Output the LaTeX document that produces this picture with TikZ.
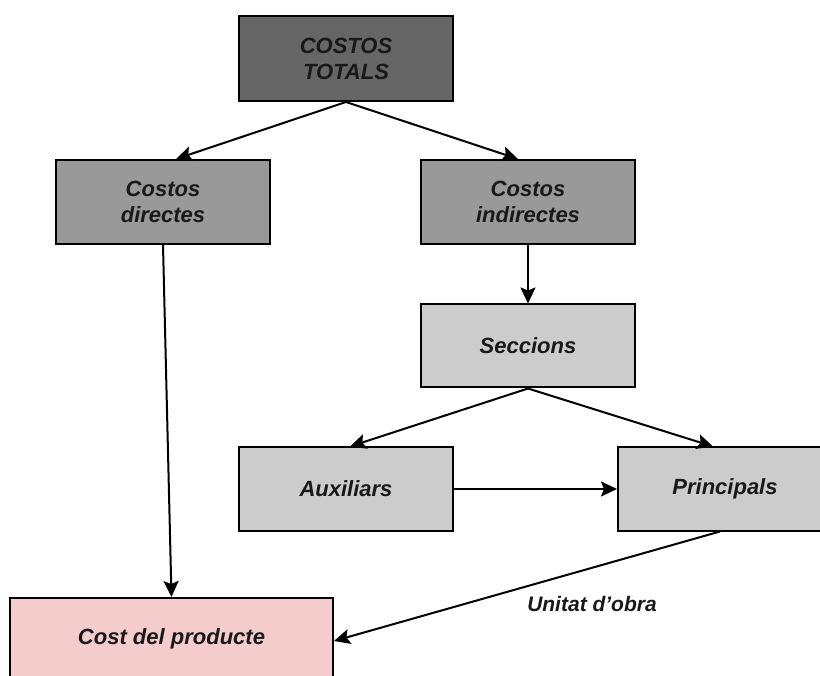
\documentclass[tikz,border=0pt]{standalone}
\usepackage{fontspec}
\setmainfont{Liberation Sans}
\usetikzlibrary{arrows.meta,positioning}
\definecolor{grisfosc}{HTML}{666666}
\definecolor{grismig}{HTML}{999999}
\definecolor{grisclar}{HTML}{CCCCCC}
\definecolor{rosa}{HTML}{F4CCCC}
\tikzset{
	caixa/.style = {rectangle, draw=black, line width=2pt, align=center,
		inner sep=0pt, text=black!90,
		font=\fontsize{22}{26}\selectfont\bfseries\itshape},
	caixa_t/.style = {caixa, fill=grisfosc, minimum width=214pt, minimum height=85pt},% total
	caixa_m/.style = {caixa, fill=grismig, minimum width=214pt, minimum height=84pt},% directes / indirectes
	caixa_c/.style = {caixa, fill=grisclar, minimum width=214pt, minimum height=83pt},% seccions
	caixa_p/.style = {caixa, fill=rosa, minimum width=323pt, minimum height=82pt},% producte
	fletxa/.style = {-{Stealth[length=16pt,width=15pt,inset=3pt]}, line width=2pt}
}
\begin{document}
\begin{tikzpicture}[x=1pt,y=-1pt]
\useasboundingbox (0,0) rectangle (820,676);
\clip (0,0) rectangle (820,676);
\node [caixa_t] (tot) at (346,58.5) {COSTOS\\TOTALS};
\node [caixa_m] (dir) at (163,202) {Costos\\directes};
\node [caixa_m] (ind) at (528,202) {Costos\\indirectes};
\node [caixa_c] (secc) at (528,346) {Seccions};
\node [caixa_c] (aux) at (346,489) {Auxiliars};
\node [caixa_c] (princ) at (725,489) {Principals};
\node [caixa_p] (cost) at (171.5,639) {Cost del producte};
\node [font=\fontsize{21}{24}\selectfont\bfseries\itshape, text=black!90] (uo) at (592,604) {Unitat d’obra};

\draw [fletxa] (tot.south) -- ([xshift=13pt]dir.north);
\draw [fletxa] (tot.south) -- ([xshift=-10pt]ind.north);
\draw [fletxa] (ind.south) -- (secc.north);
\draw [fletxa] (secc.south) -- ([xshift=4pt]aux.north);
\draw [fletxa] (secc.south) -- ([xshift=-12pt]princ.north);
\draw [fletxa] (aux.east) -- (princ.west);
\draw [fletxa] (dir.south) -- (cost.north);
\draw [fletxa] ([xshift=-5pt]princ.south) -- ([yshift=-2pt]cost.east);
\end{tikzpicture}
\end{document}
